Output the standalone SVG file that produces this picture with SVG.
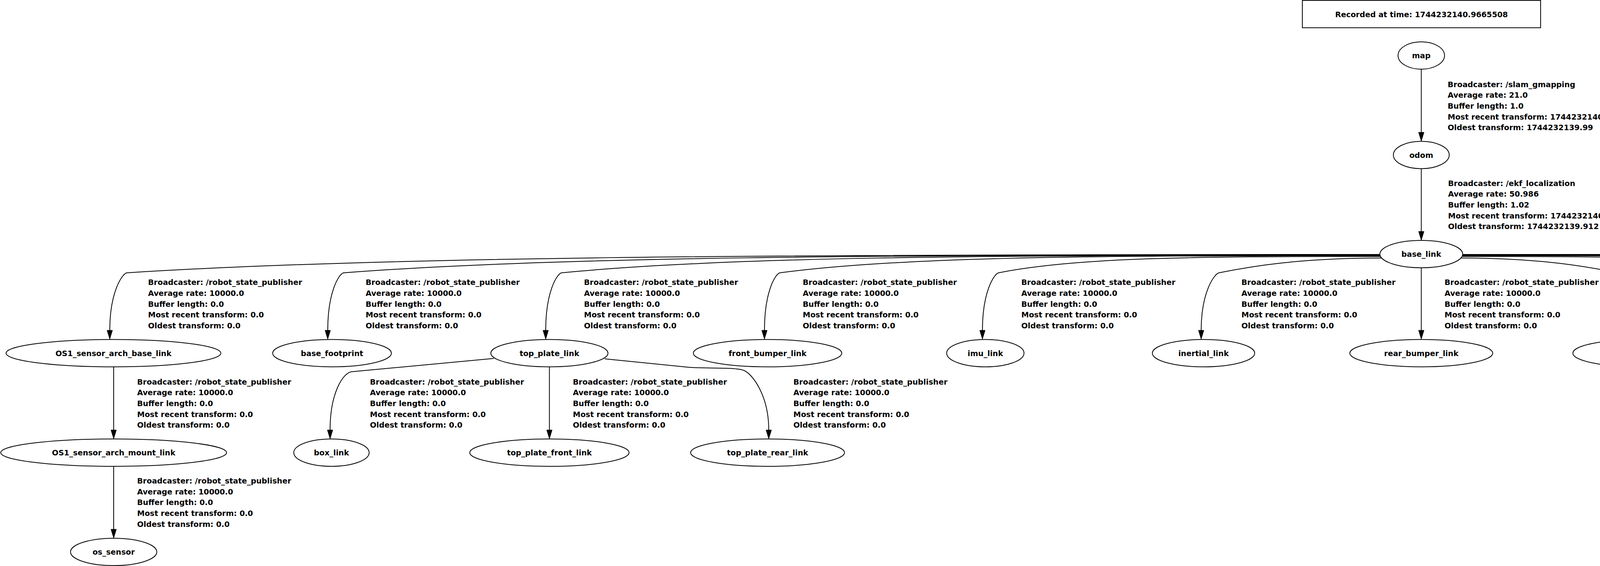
<svg xmlns="http://www.w3.org/2000/svg" width="7732" height="1448" viewBox="0 0 7732 1448">
<defs>
<style>
.node ellipse{fill:none;stroke:#000;stroke-width:2}
.t{font-family:"DejaVu Sans","Liberation Sans",sans-serif;font-weight:bold;font-size:19.5px;fill:#000}
.nt{text-anchor:middle}
.edge path{fill:none;stroke:#000;stroke-width:2;marker-end:url(#arr)}
</style>
<marker id="arr" markerUnits="userSpaceOnUse" viewBox="0 0 24 14" markerWidth="24" markerHeight="14" refX="0" refY="7" orient="auto" overflow="visible">
<path d="M0,0 L23,7 L0,14 z" fill="#000" stroke="#000" stroke-width="1"/>
</marker>
</defs>
<rect x="0" y="0" width="7732" height="1448" fill="#fff"/>

<g id="title">
<rect x="3334" y="1" width="610" height="70" fill="none" stroke="#000" stroke-width="2"/>
<text class="t nt" x="3639" y="44">Recorded at time: 1744232140.9665508</text>
</g>

<g id="connectors">
<g class="edge" id="e-map-odom"><path d="M3638.5,177 L3638.5,338.5"/>
<text class="t" x="3706" y="222.5"><tspan x="3706">Broadcaster: /slam_gmapping</tspan><tspan x="3706" dy="27.7">Average rate: 21.0</tspan><tspan x="3706" dy="27.7">Buffer length: 1.0</tspan><tspan x="3706" dy="27.7">Most recent transform: 1744232140.99</tspan><tspan x="3706" dy="27.7">Oldest transform: 1744232139.99</tspan></text></g>
<g class="edge" id="e-odom-base_link"><path d="M3638.5,431.5 L3638.5,592"/>
<text class="t" x="3707" y="475.5"><tspan x="3707">Broadcaster: /ekf_localization</tspan><tspan x="3707" dy="27.7">Average rate: 50.986</tspan><tspan x="3707" dy="27.7">Buffer length: 1.02</tspan><tspan x="3707" dy="27.7">Most recent transform: 1744232140.932</tspan><tspan x="3707" dy="27.7">Oldest transform: 1744232139.912</tspan></text></g>

<g class="edge" id="e-base_link-OS1_sensor_arch_base_link"><path d="M3532,651 C1928,651 966,657 324,698 C312,702 281,748 281,845"/>
<text class="t" x="379" y="729.3"><tspan x="379">Broadcaster: /robot_state_publisher</tspan><tspan x="379" dy="27.7">Average rate: 10000.0</tspan><tspan x="379" dy="27.7">Buffer length: 0.0</tspan><tspan x="379" dy="27.7">Most recent transform: 0.0</tspan><tspan x="379" dy="27.7">Oldest transform: 0.0</tspan></text></g>
<g class="edge" id="e-base_link-base_footprint"><path d="M3532.2,652 C2205.7,652 1409.6,657 879,698 C867,702 839,748 839,845"/>
<text class="t" x="936" y="729.3"><tspan x="936">Broadcaster: /robot_state_publisher</tspan><tspan x="936" dy="27.7">Average rate: 10000.0</tspan><tspan x="936" dy="27.7">Buffer length: 0.0</tspan><tspan x="936" dy="27.7">Most recent transform: 0.0</tspan><tspan x="936" dy="27.7">Oldest transform: 0.0</tspan></text></g>
<g class="edge" id="e-base_link-top_plate_link"><path d="M3532.4,653 C2484.7,653 1856,657 1437,698 C1425,702 1397,748 1397,845"/>
<text class="t" x="1495" y="729.3"><tspan x="1495">Broadcaster: /robot_state_publisher</tspan><tspan x="1495" dy="27.7">Average rate: 10000.0</tspan><tspan x="1495" dy="27.7">Buffer length: 0.0</tspan><tspan x="1495" dy="27.7">Most recent transform: 0.0</tspan><tspan x="1495" dy="27.7">Oldest transform: 0.0</tspan></text></g>
<g class="edge" id="e-base_link-front_bumper_link"><path d="M3532.7,654 C2764.4,654 2303.3,657 1996,698 C1984,702 1957,748 1957,845"/>
<text class="t" x="2055" y="729.3"><tspan x="2055">Broadcaster: /robot_state_publisher</tspan><tspan x="2055" dy="27.7">Average rate: 10000.0</tspan><tspan x="2055" dy="27.7">Buffer length: 0.0</tspan><tspan x="2055" dy="27.7">Most recent transform: 0.0</tspan><tspan x="2055" dy="27.7">Oldest transform: 0.0</tspan></text></g>
<g class="edge" id="e-base_link-imu_link"><path d="M3533.6,656 C3044.8,656 2751.5,658.9 2556,698 C2544,702 2515,748 2515,845"/>
<text class="t" x="2614.5" y="729.3"><tspan x="2614.5">Broadcaster: /robot_state_publisher</tspan><tspan x="2614.5" dy="27.7">Average rate: 10000.0</tspan><tspan x="2614.5" dy="27.7">Buffer length: 0.0</tspan><tspan x="2614.5" dy="27.7">Most recent transform: 0.0</tspan><tspan x="2614.5" dy="27.7">Oldest transform: 0.0</tspan></text></g>
<g class="edge" id="e-base_link-inertial_link"><path d="M3536.4,660 C3328.2,660 3203.3,681.3 3120,698 C3108,702 3075,748 3075,845"/>
<text class="t" x="3178" y="729.3"><tspan x="3178">Broadcaster: /robot_state_publisher</tspan><tspan x="3178" dy="27.7">Average rate: 10000.0</tspan><tspan x="3178" dy="27.7">Buffer length: 0.0</tspan><tspan x="3178" dy="27.7">Most recent transform: 0.0</tspan><tspan x="3178" dy="27.7">Oldest transform: 0.0</tspan></text></g>
<g class="edge" id="e-base_link-rear_bumper_link"><path d="M3638.5,685 L3638.5,845"/>
<text class="t" x="3698" y="729.3"><tspan x="3698">Broadcaster: /robot_state_publisher</tspan><tspan x="3698" dy="27.7">Average rate: 10000.0</tspan><tspan x="3698" dy="27.7">Buffer length: 0.0</tspan><tspan x="3698" dy="27.7">Most recent transform: 0.0</tspan><tspan x="3698" dy="27.7">Oldest transform: 0.0</tspan></text></g>
<g class="edge" id="e-base_link-top_chassis_link"><path d="M3739.6,660 C3941.3,660 4062.3,681.9 4143,698 C4155,702 4192,748 4192,845"/>
<text class="t" x="4253" y="729.3"><tspan x="4253">Broadcaster: /robot_state_publisher</tspan><tspan x="4253" dy="27.7">Average rate: 10000.0</tspan><tspan x="4253" dy="27.7">Buffer length: 0.0</tspan><tspan x="4253" dy="27.7">Most recent transform: 0.0</tspan><tspan x="4253" dy="27.7">Oldest transform: 0.0</tspan></text></g>
<g class="edge" id="e-base_link-user_rail_link"><path d="M3742.4,656 C4223.7,656 4512.5,659.5 4705,698 C4717,702 4750,748 4750,845"/>
<text class="t" x="4810" y="729.3"><tspan x="4810">Broadcaster: /robot_state_publisher</tspan><tspan x="4810" dy="27.7">Average rate: 10000.0</tspan><tspan x="4810" dy="27.7">Buffer length: 0.0</tspan><tspan x="4810" dy="27.7">Most recent transform: 0.0</tspan><tspan x="4810" dy="27.7">Oldest transform: 0.0</tspan></text></g>
<g class="edge" id="e-base_link-front_left_wheel_link"><path d="M3743.3,654 C4502.6,654 4958.3,657 5262,698 C5274,702 5309,748 5309,845"/>
<text class="t" x="5377.5" y="729.3"><tspan x="5377.5">Broadcaster: /robot_state_publisher</tspan><tspan x="5377.5" dy="27.7">Average rate: 11.381</tspan><tspan x="5377.5" dy="27.7">Buffer length: 0.879</tspan><tspan x="5377.5" dy="27.7">Most recent transform: 1744232140.862</tspan><tspan x="5377.5" dy="27.7">Oldest transform: 1744232139.983</tspan></text></g>
<g class="edge" id="e-base_link-front_right_wheel_link"><path d="M3743.6,653 C4819.5,653 5465.1,657 5895.5,698 C5907.5,702 5940,748 5940,845"/>
<text class="t" x="6009" y="729.3"><tspan x="6009">Broadcaster: /robot_state_publisher</tspan><tspan x="6009" dy="27.7">Average rate: 11.381</tspan><tspan x="6009" dy="27.7">Buffer length: 0.879</tspan><tspan x="6009" dy="27.7">Most recent transform: 1744232140.862</tspan><tspan x="6009" dy="27.7">Oldest transform: 1744232139.983</tspan></text></g>
<g class="edge" id="e-base_link-rear_left_wheel_link"><path d="M3743.8,652 C5135.9,652 5971.2,657 6528,698 C6540,702 6572,748 6572,845"/>
<text class="t" x="6642.5" y="729.3"><tspan x="6642.5">Broadcaster: /robot_state_publisher</tspan><tspan x="6642.5" dy="27.7">Average rate: 11.381</tspan><tspan x="6642.5" dy="27.7">Buffer length: 0.879</tspan><tspan x="6642.5" dy="27.7">Most recent transform: 1744232140.862</tspan><tspan x="6642.5" dy="27.7">Oldest transform: 1744232139.983</tspan></text></g>
<g class="edge" id="e-base_link-rear_right_wheel_link"><path d="M3744,651 C5451.2,651 6475.6,657 7158.5,698 C7170.5,702 7211,748 7211,845"/>
<text class="t" x="7283.5" y="729.3"><tspan x="7283.5">Broadcaster: /robot_state_publisher</tspan><tspan x="7283.5" dy="27.7">Average rate: 11.381</tspan><tspan x="7283.5" dy="27.7">Buffer length: 0.879</tspan><tspan x="7283.5" dy="27.7">Most recent transform: 1744232140.862</tspan><tspan x="7283.5" dy="27.7">Oldest transform: 1744232139.983</tspan></text></g>

<g class="edge" id="e-OS1_sensor_arch_base_link-OS1_sensor_arch_mount_link"><path d="M291,938.5 L291,1100"/>
<text class="t" x="351" y="983.5"><tspan x="351">Broadcaster: /robot_state_publisher</tspan><tspan x="351" dy="27.7">Average rate: 10000.0</tspan><tspan x="351" dy="27.7">Buffer length: 0.0</tspan><tspan x="351" dy="27.7">Most recent transform: 0.0</tspan><tspan x="351" dy="27.7">Oldest transform: 0.0</tspan></text></g>
<g class="edge" id="e-top_plate_link-box_link"><path d="M1264,917 L900,951 C878,954 845,1005 845,1100"/>
<text class="t" x="947" y="983.5"><tspan x="947">Broadcaster: /robot_state_publisher</tspan><tspan x="947" dy="27.7">Average rate: 10000.0</tspan><tspan x="947" dy="27.7">Buffer length: 0.0</tspan><tspan x="947" dy="27.7">Most recent transform: 0.0</tspan><tspan x="947" dy="27.7">Oldest transform: 0.0</tspan></text></g>
<g class="edge" id="e-top_plate_link-top_plate_front_link"><path d="M1406.5,938.5 L1406.5,1100"/>
<text class="t" x="1466.5" y="983.5"><tspan x="1466.5">Broadcaster: /robot_state_publisher</tspan><tspan x="1466.5" dy="27.7">Average rate: 10000.0</tspan><tspan x="1466.5" dy="27.7">Buffer length: 0.0</tspan><tspan x="1466.5" dy="27.7">Most recent transform: 0.0</tspan><tspan x="1466.5" dy="27.7">Oldest transform: 0.0</tspan></text></g>
<g class="edge" id="e-top_plate_link-top_plate_rear_link"><path d="M1548,918 L1757,939 C1800,944 1880,938 1905,948 C1925,956 1968,1010 1968,1100"/>
<text class="t" x="2031" y="983.5"><tspan x="2031">Broadcaster: /robot_state_publisher</tspan><tspan x="2031" dy="27.7">Average rate: 10000.0</tspan><tspan x="2031" dy="27.7">Buffer length: 0.0</tspan><tspan x="2031" dy="27.7">Most recent transform: 0.0</tspan><tspan x="2031" dy="27.7">Oldest transform: 0.0</tspan></text></g>
<g class="edge" id="e-OS1_sensor_arch_mount_link-os_sensor"><path d="M291,1193 L291,1354"/>
<text class="t" x="351" y="1237"><tspan x="351">Broadcaster: /robot_state_publisher</tspan><tspan x="351" dy="27.7">Average rate: 10000.0</tspan><tspan x="351" dy="27.7">Buffer length: 0.0</tspan><tspan x="351" dy="27.7">Most recent transform: 0.0</tspan><tspan x="351" dy="27.7">Oldest transform: 0.0</tspan></text></g>
</g>

<g id="node-map" class="node"><ellipse cx="3638.5" cy="142" rx="59.5" ry="35"/><text class="t nt" x="3638.5" y="149">map</text></g>
<g id="node-odom" class="node"><ellipse cx="3638.5" cy="396.5" rx="71.5" ry="35"/><text class="t nt" x="3638.5" y="403.5">odom</text></g>
<g id="node-base_link" class="node"><ellipse cx="3638.5" cy="650" rx="106" ry="35"/><text class="t nt" x="3638.5" y="657">base_link</text></g>
<g id="node-OS1_sensor_arch_base_link" class="node"><ellipse cx="290.5" cy="903.5" rx="275" ry="35"/><text class="t nt" x="290.5" y="910.5">OS1_sensor_arch_base_link</text></g>
<g id="node-base_footprint" class="node"><ellipse cx="850" cy="903.5" rx="152" ry="35"/><text class="t nt" x="850" y="910.5">base_footprint</text></g>
<g id="node-top_plate_link" class="node"><ellipse cx="1406.5" cy="903.5" rx="150" ry="35"/><text class="t nt" x="1406.5" y="910.5">top_plate_link</text></g>
<g id="node-front_bumper_link" class="node"><ellipse cx="1965" cy="903.5" rx="190" ry="35"/><text class="t nt" x="1965" y="910.5">front_bumper_link</text></g>
<g id="node-imu_link" class="node"><ellipse cx="2522.5" cy="903.5" rx="99" ry="35"/><text class="t nt" x="2522.5" y="910.5">imu_link</text></g>
<g id="node-inertial_link" class="node"><ellipse cx="3081" cy="903.5" rx="131" ry="35"/><text class="t nt" x="3081" y="910.5">inertial_link</text></g>
<g id="node-rear_bumper_link" class="node"><ellipse cx="3638.5" cy="903.5" rx="183" ry="35"/><text class="t nt" x="3638.5" y="910.5">rear_bumper_link</text></g>
<g id="node-top_chassis_link" class="node"><ellipse cx="4196.5" cy="903.5" rx="170" ry="35"/><text class="t nt" x="4196.5" y="910.5">top_chassis_link</text></g>
<g id="node-user_rail_link" class="node"><ellipse cx="4753.5" cy="903.5" rx="144" ry="35"/><text class="t nt" x="4753.5" y="910.5">user_rail_link</text></g>
<g id="node-front_left_wheel_link" class="node"><ellipse cx="5313" cy="903.5" rx="212" ry="35"/><text class="t nt" x="5313" y="910.5">front_left_wheel_link</text></g>
<g id="node-front_right_wheel_link" class="node"><ellipse cx="5944.5" cy="903.5" rx="228" ry="35"/><text class="t nt" x="5944.5" y="910.5">front_right_wheel_link</text></g>
<g id="node-rear_left_wheel_link" class="node"><ellipse cx="6576.5" cy="903.5" rx="205.5" ry="35"/><text class="t nt" x="6576.5" y="910.5">rear_left_wheel_link</text></g>
<g id="node-rear_right_wheel_link" class="node"><ellipse cx="7208" cy="903.5" rx="220.5" ry="35"/><text class="t nt" x="7208" y="910.5">rear_right_wheel_link</text></g>
<g id="node-OS1_sensor_arch_mount_link" class="node"><ellipse cx="291" cy="1158" rx="289" ry="35"/><text class="t nt" x="291" y="1165">OS1_sensor_arch_mount_link</text></g>
<g id="node-box_link" class="node"><ellipse cx="848.5" cy="1158" rx="96.5" ry="35"/><text class="t nt" x="848.5" y="1165">box_link</text></g>
<g id="node-top_plate_front_link" class="node"><ellipse cx="1406.5" cy="1158" rx="204" ry="35"/><text class="t nt" x="1406.5" y="1165">top_plate_front_link</text></g>
<g id="node-top_plate_rear_link" class="node"><ellipse cx="1965" cy="1158" rx="197" ry="35"/><text class="t nt" x="1965" y="1165">top_plate_rear_link</text></g>
<g id="node-os_sensor" class="node"><ellipse cx="291" cy="1412" rx="110.5" ry="35"/><text class="t nt" x="291" y="1419">os_sensor</text></g>
</svg>
